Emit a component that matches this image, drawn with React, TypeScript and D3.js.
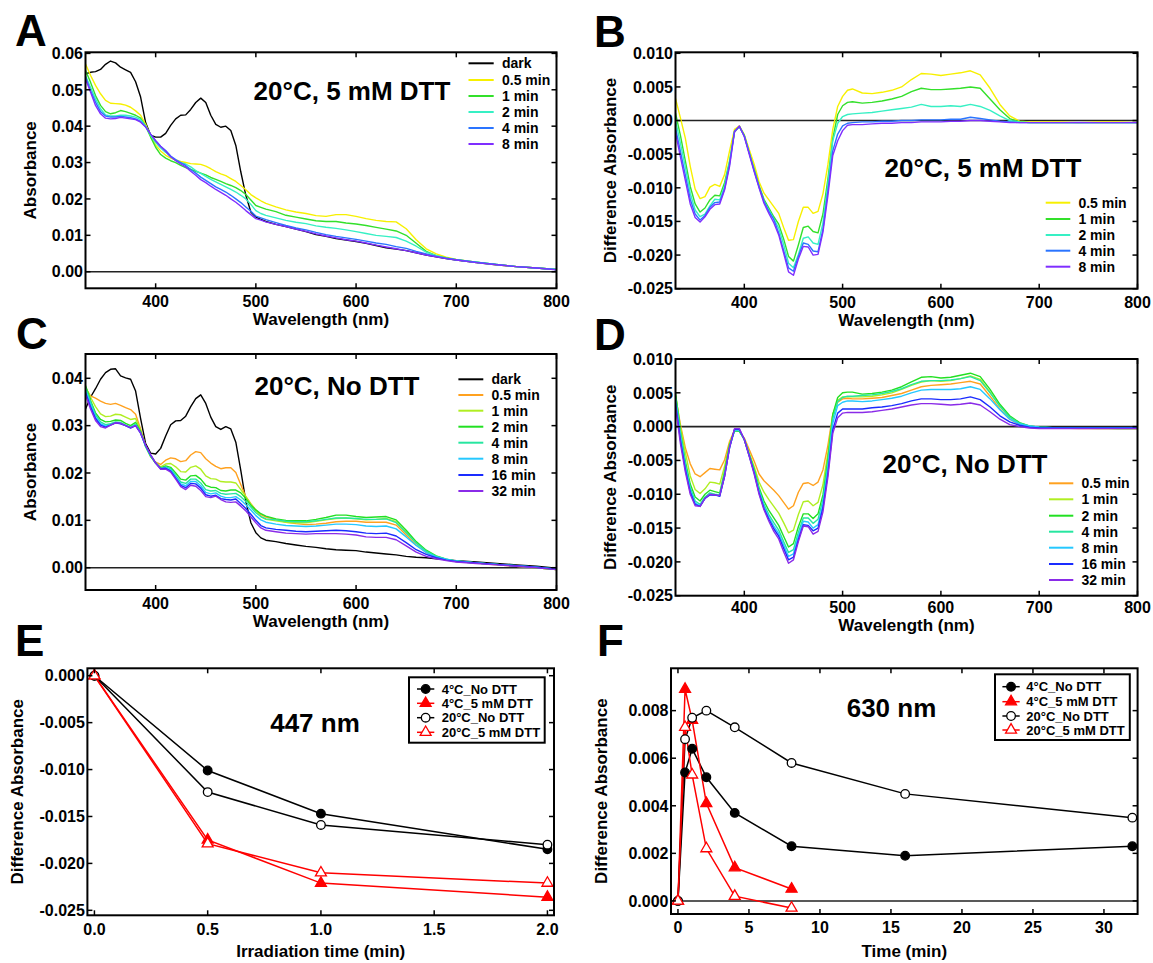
import React from "react";
import * as d3 from "d3";

const wavelengths = [330,335,340,345,350,355,360,365,370,375,380,385,390,395,400,405,410,415,420,425,430,435,440,445,450,455,460,465,470,475,480,485,490,495,500,505,510,520,530,540,550,560,570,580,590,600,610,620,630,640,650,660,670,680,690,700,720,740,760,780,800];

// Panel A: absorbance, 20°C, 5 mM DTT
const aDark = [.0544,.0548,.0550,.0556,.0570,.0579,.0574,.0562,.0555,.0548,.0522,.0480,.0410,.0375,.0370,.0370,.0380,.0402,.0420,.0430,.0431,.0446,.0465,.0477,.0465,.0430,.0405,.0397,.0400,.0388,.0347,.0274,.0210,.0164,.0150,.0144,.0138,.0130,.0124,.0117,.0110,.0102,.0097,.0091,.0087,.0083,.0078,.0072,.0066,.0062,.0058,.0052,.0046,.0041,.0036,.0032,.0025,.0019,.0014,.0010,.0006];
const aMin05 = [.0571,.0540,.0512,.0489,.0471,.0463,.0462,.0461,.0458,.0452,.0442,.0430,.0405,.0372,.0348,.0332,.0320,.0312,.0307,.0303,.0300,.0297,.0296,.0295,.0290,.0283,.0275,.0269,.0264,.0256,.0248,.0237,.0225,.0212,.0203,.0195,.0188,.0178,.0170,.0164,.0160,.0154,.0152,.0157,.0157,.0152,.0146,.0141,.0138,.0137,.0118,.0088,.0063,.0049,.0040,.0034,.0026,.0019,.0014,.0010,.0006];
const aMin1 = [.0553,.0521,.0484,.0457,.0440,.0434,.0437,.0443,.0440,.0435,.0430,.0422,.0400,.0370,.0342,.0322,.0312,.0305,.0300,.0292,.0286,.0281,.0276,.0271,.0266,.0259,.0254,.0248,.0242,.0237,.0231,.0223,.0212,.0197,.0182,.0177,.0172,.0165,.0155,.0150,.0145,.0140,.0138,.0138,.0134,.0131,.0127,.0122,.0117,.0112,.0100,.0078,.0056,.0044,.0038,.0033,.0026,.0020,.0014,.0010,.0006];
const aMin2 = [.0539,.0507,.0475,.0448,.0431,.0428,.0428,.0430,.0430,.0428,.0425,.0418,.0400,.0375,.0355,.0340,.0328,.0315,.0307,.0300,.0296,.0288,.0278,.0270,.0262,.0254,.0247,.0240,.0233,.0226,.0219,.0210,.0200,.0185,.0168,.0160,.0155,.0148,.0141,.0136,.0132,.0126,.0122,.0119,.0115,.0110,.0105,.0100,.0097,.0094,.0084,.0070,.0054,.0044,.0037,.0033,.0026,.0020,.0014,.0010,.0006];
const aMin4 = [.0535,.0498,.0466,.0440,.0428,.0425,.0425,.0427,.0425,.0423,.0420,.0413,.0398,.0378,.0360,.0345,.0333,.0318,.0308,.0300,.0292,.0281,.0271,.0260,.0251,.0242,.0233,.0226,.0219,.0210,.0200,.0190,.0178,.0166,.0153,.0148,.0143,.0135,.0127,.0120,.0115,.0108,.0102,.0097,.0093,.0089,.0084,.0079,.0075,.0069,.0064,.0056,.0049,.0042,.0037,.0033,.0026,.0020,.0014,.0010,.0006];
const aMin8 = [.0530,.0494,.0457,.0434,.0422,.0420,.0421,.0424,.0422,.0420,.0418,.0411,.0398,.0378,.0360,.0344,.0331,.0316,.0305,.0296,.0288,.0276,.0265,.0253,.0245,.0235,.0226,.0218,.0210,.0200,.0191,.0180,.0168,.0157,.0146,.0142,.0137,.0130,.0124,.0117,.0111,.0104,.0098,.0093,.0088,.0084,.0079,.0073,.0068,.0063,.0058,.0052,.0046,.0041,.0036,.0032,.0025,.0019,.0014,.0010,.0005];

// Panel B: difference absorbance, 20°C, 5 mM DTT
const bMin05 = [.0033,.0004,-.0026,-.0068,-.0102,-.0116,-.0113,-.0099,-.0095,-.0098,-.0080,-.0045,-.0013,-.0008,-.0021,-.0043,-.0065,-.0091,-.0108,-.0118,-.0128,-.0138,-.0159,-.0178,-.0177,-.0150,-.0129,-.0129,-.0138,-.0135,-.0109,-.0066,-.0013,.0021,.0036,.0045,.0047,.0041,.0040,.0042,.0045,.0050,.0061,.0070,.0069,.0067,.0069,.0071,.0074,.0068,.0048,.0024,.0007,-.0001,-.0002,-.0002,-.0002,-.0003,-.0002,-.0002,-.0003];
const bMin1 = [.0011,-.0022,-.0060,-.0098,-.0124,-.0136,-.0130,-.0118,-.0111,-.0112,-.0092,-.0060,-.0017,-.0009,-.0022,-.0048,-.0072,-.0097,-.0117,-.0130,-.0143,-.0154,-.0176,-.0202,-.0209,-.0185,-.0159,-.0157,-.0165,-.0167,-.0139,-.0087,-.0027,.0009,.0022,.0027,.0028,.0026,.0027,.0029,.0032,.0036,.0043,.0048,.0046,.0046,.0047,.0048,.0050,.0048,.0032,.0016,.0003,-.0002,-.0003,-.0003,-.0003,-.0003,-.0003,-.0003,-.0003];
const bMin2 = [.0001,-.0034,-.0069,-.0108,-.0133,-.0143,-.0139,-.0127,-.0117,-.0118,-.0097,-.0062,-.0017,-.0009,-.0023,-.0048,-.0074,-.0099,-.0120,-.0133,-.0146,-.0160,-.0184,-.0212,-.0219,-.0199,-.0175,-.0173,-.0182,-.0184,-.0152,-.0095,-.0030,-.0004,.0006,.0009,.0010,.0011,.0012,.0014,.0016,.0018,.0020,.0024,.0021,.0021,.0022,.0021,.0024,.0021,.0015,.0007,.0000,-.0002,-.0003,-.0003,-.0003,-.0003,-.0003,-.0003,-.0003];
const bMin4 = [-.0011,-.0046,-.0081,-.0117,-.0139,-.0148,-.0141,-.0129,-.0122,-.0121,-.0101,-.0065,-.0016,-.0009,-.0023,-.0048,-.0074,-.0098,-.0120,-.0135,-.0147,-.0167,-.0193,-.0219,-.0224,-.0202,-.0182,-.0184,-.0194,-.0195,-.0162,-.0105,-.0045,-.0020,-.0008,-.0004,-.0003,-.0002,-.0002,-.0001,-.0001,.0000,.0000,.0001,.0001,.0001,.0002,.0002,.0005,.0003,.0001,-.0001,-.0002,-.0003,-.0003,-.0003,-.0003,-.0003,-.0003,-.0003,-.0003];
const bMin8 = [-.0018,-.0054,-.0089,-.0124,-.0144,-.0151,-.0143,-.0132,-.0125,-.0124,-.0103,-.0068,-.0017,-.0008,-.0024,-.0050,-.0076,-.0100,-.0123,-.0138,-.0152,-.0170,-.0197,-.0225,-.0230,-.0206,-.0187,-.0188,-.0200,-.0199,-.0166,-.0112,-.0052,-.0030,-.0015,-.0007,-.0006,-.0006,-.0005,-.0004,-.0004,-.0003,-.0003,-.0002,-.0002,-.0002,-.0001,-.0001,.0000,.0000,-.0001,-.0002,-.0003,-.0003,-.0003,-.0003,-.0003,-.0003,-.0003,-.0003,-.0003];

// Panel C: absorbance, 20°C, No DTT
const cDark = [.0335,.0360,.0378,.0398,.0412,.0419,.0420,.0405,.0401,.0398,.0373,.0315,.0262,.0242,.0240,.0252,.0278,.0302,.0310,.0311,.0320,.0340,.0357,.0365,.0347,.0318,.0298,.0292,.0298,.0293,.0265,.0205,.0140,.0095,.0074,.0063,.0058,.0055,.0051,.0048,.0045,.0043,.0040,.0038,.0037,.0036,.0033,.0031,.0029,.0027,.0024,.0022,.0021,.0019,.0017,.0015,.0012,.0009,.0006,.0003,-.0001];
const cMin05 = [.0380,.0363,.0358,.0352,.0347,.0345,.0347,.0343,.0338,.0334,.0324,.0293,.0257,.0235,.0223,.0218,.0227,.0232,.0230,.0224,.0226,.0238,.0245,.0243,.0230,.0221,.0214,.0209,.0211,.0211,.0201,.0175,.0150,.0135,.0122,.0112,.0107,.0102,.0096,.0093,.0091,.0092,.0094,.0097,.0098,.0098,.0096,.0096,.0096,.0090,.0069,.0048,.0032,.0022,.0017,.0013,.0010,.0006,.0003,.0000,-.0004];
const cMin1 = [.0382,.0360,.0340,.0325,.0319,.0320,.0324,.0323,.0318,.0313,.0315,.0290,.0256,.0235,.0221,.0213,.0219,.0220,.0213,.0203,.0202,.0212,.0215,.0208,.0194,.0188,.0187,.0182,.0181,.0181,.0179,.0165,.0150,.0134,.0120,.0108,.0102,.0099,.0096,.0095,.0095,.0098,.0101,.0104,.0105,.0103,.0101,.0102,.0104,.0097,.0075,.0052,.0035,.0023,.0017,.0013,.0010,.0007,.0003,.0000,-.0004];
const cMin2 = [.0385,.0353,.0327,.0313,.0308,.0309,.0312,.0311,.0305,.0300,.0307,.0288,.0256,.0235,.0221,.0211,.0215,.0212,.0200,.0187,.0185,.0194,.0195,.0187,.0174,.0170,.0169,.0163,.0162,.0164,.0164,.0158,.0146,.0132,.0122,.0114,.0109,.0103,.0100,.0099,.0099,.0102,.0106,.0111,.0111,.0108,.0106,.0107,.0108,.0101,.0079,.0055,.0037,.0025,.0018,.0014,.0010,.0007,.0004,.0000,-.0004];
const cMin4 = [.0380,.0351,.0323,.0308,.0302,.0304,.0308,.0307,.0301,.0297,.0303,.0285,.0256,.0236,.0221,.0210,.0213,.0209,.0195,.0181,.0178,.0187,.0187,.0179,.0165,.0162,.0163,.0157,.0155,.0156,.0157,.0150,.0140,.0128,.0116,.0108,.0103,.0101,.0098,.0097,.0097,.0099,.0102,.0105,.0105,.0104,.0102,.0102,.0103,.0095,.0074,.0052,.0035,.0024,.0018,.0014,.0010,.0007,.0004,.0001,-.0003];
const cMin8 = [.0375,.0345,.0318,.0304,.0299,.0302,.0306,.0305,.0300,.0296,.0301,.0284,.0257,.0237,.0221,.0209,.0211,.0206,.0192,.0177,.0173,.0182,.0182,.0173,.0159,.0156,.0158,.0151,.0148,.0148,.0150,.0143,.0133,.0122,.0110,.0101,.0096,.0092,.0089,.0088,.0087,.0088,.0090,.0092,.0092,.0091,.0088,.0087,.0088,.0082,.0065,.0047,.0032,.0023,.0018,.0014,.0010,.0007,.0004,.0001,-.0003];
const cMin16 = [.0370,.0340,.0315,.0301,.0297,.0301,.0306,.0304,.0300,.0295,.0300,.0284,.0258,.0238,.0221,.0209,.0210,.0204,.0189,.0174,.0169,.0178,.0177,.0168,.0154,.0151,.0153,.0146,.0144,.0143,.0145,.0135,.0125,.0113,.0100,.0089,.0084,.0081,.0079,.0077,.0076,.0077,.0078,.0079,.0078,.0076,.0073,.0072,.0073,.0067,.0053,.0038,.0028,.0021,.0016,.0013,.0010,.0007,.0004,.0001,-.0003];
const cMin32 = [.0365,.0335,.0311,.0298,.0295,.0301,.0306,.0305,.0300,.0296,.0300,.0284,.0259,.0239,.0221,.0208,.0208,.0202,.0187,.0171,.0165,.0174,.0172,.0163,.0150,.0148,.0151,.0144,.0139,.0138,.0139,.0130,.0120,.0107,.0095,.0084,.0079,.0076,.0073,.0072,.0071,.0072,.0072,.0072,.0071,.0069,.0065,.0064,.0064,.0059,.0046,.0033,.0024,.0019,.0015,.0012,.0009,.0006,.0003,.0000,-.0004];

// Panel D: difference absorbance, 20°C, No DTT
const dMin05 = [.0045,.0003,-.0031,-.0055,-.0070,-.0074,-.0068,-.0062,-.0063,-.0064,-.0049,-.0022,-.0005,-.0007,-.0017,-.0034,-.0051,-.0070,-.0080,-.0087,-.0094,-.0102,-.0112,-.0122,-.0117,-.0097,-.0084,-.0083,-.0087,-.0082,-.0064,-.0028,.0018,.0036,.0041,.0042,.0041,.0041,.0042,.0043,.0046,.0049,.0054,.0059,.0061,.0062,.0063,.0065,.0067,.0063,.0045,.0026,.0011,.0003,.0000,-.0002,-.0002,-.0003,-.0003,-.0003,-.0003];
const dMin1 = [.0047,.0000,-.0038,-.0073,-.0093,-.0099,-.0092,-.0082,-.0083,-.0085,-.0058,-.0025,-.0006,-.0007,-.0019,-.0039,-.0059,-.0082,-.0097,-.0108,-.0118,-.0128,-.0142,-.0157,-.0153,-.0130,-.0111,-.0110,-.0117,-.0112,-.0086,-.0039,.0018,.0039,.0044,.0044,.0044,.0044,.0045,.0047,.0050,.0055,.0061,.0066,.0068,.0067,.0068,.0071,.0075,.0070,.0051,.0030,.0014,.0004,.0000,-.0002,-.0002,-.0002,-.0003,-.0003,-.0003];
const dMin2 = [.0050,-.0007,-.0051,-.0085,-.0104,-.0110,-.0100,-.0094,-.0096,-.0098,-.0066,-.0027,-.0006,-.0007,-.0019,-.0041,-.0063,-.0090,-.0110,-.0124,-.0135,-.0146,-.0162,-.0178,-.0173,-.0148,-.0129,-.0129,-.0136,-.0129,-.0101,-.0048,.0018,.0043,.0050,.0051,.0051,.0048,.0049,.0051,.0054,.0059,.0066,.0073,.0074,.0072,.0073,.0076,.0079,.0074,.0055,.0033,.0016,.0006,.0001,-.0001,-.0002,-.0002,-.0002,-.0003,-.0003];
const dMin4 = [.0045,-.0009,-.0055,-.0090,-.0110,-.0115,-.0104,-.0098,-.0100,-.0101,-.0070,-.0030,-.0006,-.0006,-.0019,-.0042,-.0065,-.0093,-.0115,-.0130,-.0142,-.0153,-.0170,-.0186,-.0182,-.0156,-.0135,-.0135,-.0143,-.0137,-.0108,-.0055,.0012,.0037,.0043,.0045,.0045,.0046,.0047,.0049,.0052,.0056,.0062,.0067,.0068,.0068,.0069,.0071,.0074,.0068,.0050,.0030,.0014,.0005,.0001,-.0001,-.0002,-.0002,-.0002,-.0002,-.0002];
const dMin8 = [.0040,-.0015,-.0060,-.0094,-.0113,-.0117,-.0106,-.0100,-.0101,-.0102,-.0072,-.0031,-.0005,-.0005,-.0019,-.0043,-.0067,-.0096,-.0118,-.0134,-.0147,-.0158,-.0175,-.0192,-.0188,-.0162,-.0140,-.0141,-.0150,-.0145,-.0115,-.0062,.0005,.0031,.0036,.0038,.0038,.0037,.0038,.0040,.0042,.0045,.0050,.0054,.0055,.0055,.0055,.0056,.0059,.0055,.0041,.0025,.0011,.0004,.0001,-.0001,-.0002,-.0002,-.0002,-.0002,-.0002];
const dMin16 = [.0035,-.0020,-.0063,-.0097,-.0115,-.0118,-.0106,-.0101,-.0101,-.0103,-.0073,-.0031,-.0004,-.0004,-.0019,-.0043,-.0068,-.0098,-.0121,-.0137,-.0151,-.0162,-.0180,-.0197,-.0193,-.0167,-.0145,-.0146,-.0154,-.0150,-.0120,-.0070,-.0005,.0020,.0026,.0026,.0026,.0026,.0028,.0029,.0031,.0034,.0038,.0041,.0041,.0040,.0040,.0041,.0044,.0040,.0029,.0016,.0007,.0002,-.0001,-.0002,-.0002,-.0002,-.0002,-.0002,-.0002];
const dMin32 = [.0030,-.0025,-.0067,-.0100,-.0117,-.0118,-.0106,-.0100,-.0101,-.0102,-.0073,-.0031,-.0003,-.0003,-.0019,-.0044,-.0070,-.0100,-.0123,-.0140,-.0155,-.0166,-.0185,-.0202,-.0197,-.0170,-.0147,-.0148,-.0159,-.0155,-.0126,-.0075,-.0010,.0013,.0020,.0021,.0021,.0021,.0022,.0024,.0026,.0029,.0032,.0034,.0034,.0033,.0032,.0033,.0035,.0032,.0022,.0011,.0003,.0000,-.0002,-.0003,-.0003,-.0003,-.0003,-.0003,-.0003];

// Panel E: 447 nm kinetics
const eTimes = [0, 0.5, 1, 2];
const e4NoDTT = [0, -0.0101, -0.0147, -0.0185];
const e4DTT = [0, -0.0175, -0.0221, -0.0236];
const e20NoDTT = [0, -0.0124, -0.0159, -0.0180];
const e20DTT = [0, -0.0179, -0.0210, -0.0221];

// Panel F: 630 nm kinetics
const fTimesLong = [0, 0.5, 1, 2, 4, 8, 16, 32];
const fTimesShort = [0, 0.5, 1, 2, 4, 8];
const f4NoDTT = [0, 0.0054, 0.0064, 0.0052, 0.0037, 0.0023, 0.0019, 0.0023];
const f4DTT = [0, 0.0089, 0.0076, 0.0041, 0.0014, 0.0005];
const f20NoDTT = [0, 0.0068, 0.0077, 0.0080, 0.0073, 0.0058, 0.0045, 0.0035];
const f20DTT = [0, 0.0073, 0.0053, 0.0022, 0.0002, -0.0003];

// Tick values / labels
const waveTicks = [400, 500, 600, 700, 800];
const aYTicks = [0, 0.01, 0.02, 0.03, 0.04, 0.05, 0.06];
const cYTicks = [0, 0.01, 0.02, 0.03, 0.04];
const diffYTicks = [0.01, 0.005, 0, -0.005, -0.01, -0.015, -0.02, -0.025];
const eXTicks = [0, 0.5, 1, 1.5, 2];
const eYTicks = [0, -0.005, -0.01, -0.015, -0.02, -0.025];
const fXTicks = [0, 5, 10, 15, 20, 25, 30];
const fYTicks = [0, 0.002, 0.004, 0.006, 0.008];

const labelsAB = ["dark", "0.5 min", "1 min", "2 min", "4 min", "8 min"];
const labelsCD = ["dark", "0.5 min", "1 min", "2 min", "4 min", "8 min", "16 min", "32 min"];
const kineticLabels = ["4°C_No DTT", "4°C_5 mM DTT", "20°C_No DTT", "20°C_5 mM DTT"];

const colorsA = ["#000000", "#f7f000", "#33e02a", "#36f0c4", "#2a74ff", "#7f2eff"];
const colorsC = ["#000000", "#ffa11f", "#b0ee22", "#22e022", "#26e6a0", "#25c8ff", "#1a2cff", "#8a2be8"];

const FONT = "'Liberation Sans', Arial, Helvetica, sans-serif";

type Box = { l: number; t: number; r: number; b: number };
type Series = { label: string; color: string; values: number[] };

function Axes(p: {
  box: Box;
  x: d3.ScaleLinear<number, number>;
  y: d3.ScaleLinear<number, number>;
  xTicks: number[];
  yTicks: number[];
  xFmt: (v: number) => string;
  yFmt: (v: number) => string;
  xLabelY: number;
}) {
  const { box, x, y } = p;
  const tl = 5;
  return (
    <g>
      {p.xTicks.map((v, i) => (
        <g key={"xt" + i}>
          <line x1={x(v)} x2={x(v)} y1={box.b} y2={box.b - tl} stroke="#000" strokeWidth={1.5} />
          <line x1={x(v)} x2={x(v)} y1={box.t} y2={box.t + tl} stroke="#000" strokeWidth={1.5} />
          <text x={x(v)} y={p.xLabelY} textAnchor="middle" fontSize={16} fontWeight="bold" fontFamily={FONT}>
            {p.xFmt(v)}
          </text>
        </g>
      ))}
      {p.yTicks.map((v, i) => (
        <g key={"yt" + i}>
          <line x1={box.l} x2={box.l + tl} y1={y(v)} y2={y(v)} stroke="#000" strokeWidth={1.5} />
          <line x1={box.r} x2={box.r - tl} y1={y(v)} y2={y(v)} stroke="#000" strokeWidth={1.5} />
          <text x={box.l - 2.5} y={y(v)} dy="0.36em" textAnchor="end" fontSize={16} fontWeight="bold" fontFamily={FONT}>
            {p.yFmt(v)}
          </text>
        </g>
      ))}
      <rect x={box.l} y={box.t} width={box.r - box.l} height={box.b - box.t} fill="none" stroke="#000" strokeWidth={2} />
    </g>
  );
}

function SpectrumPanel(p: {
  id: string;
  box: Box;
  yDomain: [number, number];
  yTicks: number[];
  yDigits: number;
  series: Series[];
  letter: string;
  letterX: number;
  letterY: number;
  title: string;
  titleX: number;
  titleY: number;
  legendRows: number[];
  legendLineX: [number, number];
  legendTextX: number;
  yTitle: string;
  yTitleX: number;
  xLabelY: number;
  xTitleY: number;
  zeroLine: boolean;
}) {
  const { box } = p;
  const x = d3.scaleLinear().domain([330, 800]).range([box.l, box.r]);
  const y = d3.scaleLinear().domain(p.yDomain).range([box.b, box.t]);
  const line = d3
    .line<number>()
    .defined((v) => Number.isFinite(v))
    .x((_, i) => x(wavelengths[i]))
    .y((v) => y(v));
  const clipId = "clip-" + p.id;
  return (
    <g>
      <defs>
        <clipPath id={clipId}>
          <rect x={box.l} y={box.t} width={box.r - box.l} height={box.b - box.t} />
        </clipPath>
      </defs>
      <g clipPath={`url(#${clipId})`}>
        {p.zeroLine && <line x1={box.l} x2={box.r} y1={y(0)} y2={y(0)} stroke="#222" strokeWidth={1.6} />}
        {p.series.map((s, i) => (
          <path key={i} d={line(s.values) || ""} fill="none" stroke={s.color} strokeWidth={1.4} strokeLinejoin="round" />
        ))}
      </g>
      <Axes
        box={box}
        x={x}
        y={y}
        xTicks={waveTicks}
        yTicks={p.yTicks}
        xFmt={(v) => String(v)}
        yFmt={(v) => (Math.abs(v) < 1e-12 ? (0).toFixed(p.yDigits) : v.toFixed(p.yDigits))}
        xLabelY={p.xLabelY}
      />
      <text x={p.letterX} y={p.letterY} fontSize={44} fontWeight="bold" fontFamily={FONT}>
        {p.letter}
      </text>
      <text x={p.titleX} y={p.titleY} textAnchor="middle" fontSize={26} fontWeight="bold" fontFamily={FONT}>
        {p.title}
      </text>
      {p.series.map((s, i) => (
        <g key={"lg" + i}>
          <line x1={p.legendLineX[0]} x2={p.legendLineX[1]} y1={p.legendRows[i]} y2={p.legendRows[i]} stroke={s.color} strokeWidth={2} />
          <text x={p.legendTextX} y={p.legendRows[i]} dy="0.36em" fontSize={14} fontWeight="bold" fontFamily={FONT}>
            {s.label}
          </text>
        </g>
      ))}
      <text
        transform={`translate(${p.yTitleX},${(box.t + box.b) / 2}) rotate(-90)`}
        textAnchor="middle"
        dy="0.36em"
        fontSize={17}
        fontWeight="bold"
        fontFamily={FONT}
      >
        {p.yTitle}
      </text>
      <text x={(box.l + box.r) / 2} y={p.xTitleY} textAnchor="middle" fontSize={17} fontWeight="bold" fontFamily={FONT}>
        Wavelength (nm)
      </text>
    </g>
  );
}

type KSeries = { label: string; color: string; filled: boolean; shape: "circle" | "triangle"; t: number[]; v: number[] };

function Marker(p: { shape: "circle" | "triangle"; cx: number; cy: number; color: string; filled: boolean }) {
  if (p.shape === "circle") {
    return <circle cx={p.cx} cy={p.cy} r={4.3} fill={p.filled ? p.color : "#fff"} stroke={p.color} strokeWidth={1.3} />;
  }
  const d = d3.symbol().type(d3.symbolTriangle).size(52)() || "";
  return (
    <path
      transform={`translate(${p.cx},${p.cy})`}
      d={d}
      fill={p.filled ? p.color : "#fff"}
      stroke={p.color}
      strokeWidth={1.3}
    />
  );
}

function KineticPanel(p: {
  id: string;
  box: Box;
  xDomain: [number, number];
  yDomain: [number, number];
  xTicks: number[];
  yTicks: number[];
  xFmt: (v: number) => string;
  yFmt: (v: number) => string;
  series: KSeries[];
  letter: string;
  letterX: number;
  letterY: number;
  title: string;
  titleX: number;
  titleY: number;
  legendBox: Box;
  legendRows: number[];
  legendLineX: [number, number];
  legendTextX: number;
  yTitleX: number;
  xTitle: string;
  xLabelY: number;
  xTitleY: number;
  zeroLine: boolean;
}) {
  const { box } = p;
  const x = d3.scaleLinear().domain(p.xDomain).range([box.l, box.r]);
  const y = d3.scaleLinear().domain(p.yDomain).range([box.b, box.t]);
  const lb = p.legendBox;
  const mx = (p.legendLineX[0] + p.legendLineX[1]) / 2;
  return (
    <g>
      {p.zeroLine && <line x1={box.l} x2={box.r} y1={y(0)} y2={y(0)} stroke="#222" strokeWidth={1.5} />}
      {p.series.map((s, i) => {
        const line = d3
          .line<number>()
          .x((_, j) => x(s.t[j]))
          .y((v) => y(v));
        return <path key={"l" + i} d={line(s.v) || ""} fill="none" stroke={s.color} strokeWidth={1.5} />;
      })}
      {p.series.map((s, i) => (
        <g key={"m" + i}>
          {s.v.map((v, j) => (
            <Marker key={j} shape={s.shape} cx={x(s.t[j])} cy={y(v)} color={s.color} filled={s.filled} />
          ))}
        </g>
      ))}
      <Axes box={box} x={x} y={y} xTicks={p.xTicks} yTicks={p.yTicks} xFmt={p.xFmt} yFmt={p.yFmt} xLabelY={p.xLabelY} />
      <text x={p.letterX} y={p.letterY} fontSize={44} fontWeight="bold" fontFamily={FONT}>
        {p.letter}
      </text>
      <text x={p.titleX} y={p.titleY} textAnchor="middle" fontSize={26} fontWeight="bold" fontFamily={FONT}>
        {p.title}
      </text>
      <rect x={lb.l} y={lb.t} width={lb.r - lb.l} height={lb.b - lb.t} fill="#fff" stroke="#000" strokeWidth={2} />
      {p.series.map((s, i) => (
        <g key={"lg" + i}>
          <line x1={p.legendLineX[0]} x2={p.legendLineX[1]} y1={p.legendRows[i]} y2={p.legendRows[i]} stroke={s.color} strokeWidth={1.5} />
          <Marker shape={s.shape} cx={mx} cy={p.legendRows[i]} color={s.color} filled={s.filled} />
          <text x={p.legendTextX} y={p.legendRows[i]} dy="0.36em" fontSize={13} fontWeight="bold" fontFamily={FONT}>
            {s.label}
          </text>
        </g>
      ))}
      <text
        transform={`translate(${p.yTitleX},${(box.t + box.b) / 2}) rotate(-90)`}
        textAnchor="middle"
        dy="0.36em"
        fontSize={17}
        fontWeight="bold"
        fontFamily={FONT}
      >
        Difference Absorbance
      </text>
      <text x={(box.l + box.r) / 2} y={p.xTitleY} textAnchor="middle" fontSize={17} fontWeight="bold" fontFamily={FONT}>
        {p.xTitle}
      </text>
    </g>
  );
}

export default function App() {
  const seriesA: Series[] = [aDark, aMin05, aMin1, aMin2, aMin4, aMin8].map((v, i) => ({
    label: labelsAB[i],
    color: colorsA[i],
    values: v,
  }));
  const seriesB: Series[] = [bMin05, bMin1, bMin2, bMin4, bMin8].map((v, i) => ({
    label: labelsAB[i + 1],
    color: colorsA[i + 1],
    values: v,
  }));
  const seriesC: Series[] = [cDark, cMin05, cMin1, cMin2, cMin4, cMin8, cMin16, cMin32].map((v, i) => ({
    label: labelsCD[i],
    color: colorsC[i],
    values: v,
  }));
  const seriesD: Series[] = [dMin05, dMin1, dMin2, dMin4, dMin8, dMin16, dMin32].map((v, i) => ({
    label: labelsCD[i + 1],
    color: colorsC[i + 1],
    values: v,
  }));
  const red = "#ff0000";
  const seriesE: KSeries[] = [
    { label: kineticLabels[0], color: "#000", filled: true, shape: "circle", t: eTimes, v: e4NoDTT },
    { label: kineticLabels[1], color: red, filled: true, shape: "triangle", t: eTimes, v: e4DTT },
    { label: kineticLabels[2], color: "#000", filled: false, shape: "circle", t: eTimes, v: e20NoDTT },
    { label: kineticLabels[3], color: red, filled: false, shape: "triangle", t: eTimes, v: e20DTT },
  ];
  const seriesF: KSeries[] = [
    { label: kineticLabels[0], color: "#000", filled: true, shape: "circle", t: fTimesLong, v: f4NoDTT },
    { label: kineticLabels[1], color: red, filled: true, shape: "triangle", t: fTimesShort, v: f4DTT },
    { label: kineticLabels[2], color: "#000", filled: false, shape: "circle", t: fTimesLong, v: f20NoDTT },
    { label: kineticLabels[3], color: red, filled: false, shape: "triangle", t: fTimesShort, v: f20DTT },
  ];

  return (
    <svg
      width={1153}
      height={963}
      viewBox="0 0 1153 963"
      style={{ position: "absolute", left: 0, top: 0, background: "#fff" }}
    >
      <rect x={0} y={0} width={1153} height={963} fill="#fff" />
      <SpectrumPanel
        id="A"
        box={{ l: 85.5, t: 52.3, r: 556.5, b: 288.3 }}
        yDomain={[-0.00456, 0.0603]}
        yTicks={aYTicks}
        yDigits={2}
        series={seriesA}
        letter="A"
        letterX={15}
        letterY={46}
        title="20°C, 5 mM DTT"
        titleX={352}
        titleY={100}
        legendRows={[63.3, 80, 96, 112, 128, 144]}
        legendLineX={[468.5, 493.7]}
        legendTextX={502}
        yTitle="Absorbance"
        yTitleX={30}
        xLabelY={307}
        xTitleY={325}
        zeroLine={true}
      />
      <SpectrumPanel
        id="B"
        box={{ l: 675.5, t: 52.3, r: 1137.5, b: 288.7 }}
        yDomain={[-0.025, 0.01015]}
        yTicks={diffYTicks}
        yDigits={3}
        series={seriesB}
        letter="B"
        letterX={594}
        letterY={46.7}
        title="20°C, 5 mM DTT"
        titleX={983}
        titleY={176.7}
        legendRows={[202.7, 219, 235, 250.7, 266.7]}
        legendLineX={[1045.7, 1070.3]}
        legendTextX={1078.4}
        yTitle="Difference Absorbance"
        yTitleX={610}
        xLabelY={307.5}
        xTitleY={325.5}
        zeroLine={true}
      />
      <SpectrumPanel
        id="C"
        box={{ l: 85.5, t: 354, r: 556.5, b: 590 }}
        yDomain={[-0.00471, 0.04513]}
        yTicks={cYTicks}
        yDigits={2}
        series={seriesC}
        letter="C"
        letterX={16}
        letterY={349}
        title="20°C, No DTT"
        titleX={337}
        titleY={395}
        legendRows={[379.3, 395, 410.7, 426.7, 442.7, 458.7, 475, 491]}
        legendLineX={[458.4, 483.3]}
        legendTextX={491.5}
        yTitle="Absorbance"
        yTitleX={30}
        xLabelY={609}
        xTitleY={627}
        zeroLine={true}
      />
      <SpectrumPanel
        id="D"
        box={{ l: 675.5, t: 359, r: 1137.5, b: 595.7 }}
        yDomain={[-0.025, 0.01]}
        yTicks={diffYTicks}
        yDigits={3}
        series={seriesD}
        letter="D"
        letterX={594}
        letterY={350}
        title="20°C, No DTT"
        titleX={965}
        titleY={472.7}
        legendRows={[483.3, 499.3, 515.7, 531.7, 547.7, 564, 580]}
        legendLineX={[1049, 1073.3]}
        legendTextX={1081.4}
        yTitle="Difference Absorbance"
        yTitleX={610}
        xLabelY={613}
        xTitleY={631}
        zeroLine={true}
      />
      <KineticPanel
        id="E"
        box={{ l: 87.4, t: 668.3, r: 554, b: 915.3 }}
        xDomain={[-0.031, 2.029]}
        yDomain={[-0.02553, 0.00079]}
        xTicks={eXTicks}
        yTicks={eYTicks}
        xFmt={(v) => v.toFixed(1)}
        yFmt={(v) => (Math.abs(v) < 1e-12 ? "0.000" : v.toFixed(3))}
        series={seriesE}
        letter="E"
        letterX={15}
        letterY={656}
        title="447 nm"
        titleX={315}
        titleY={732}
        legendBox={{ l: 409, t: 677.3, r: 544.7, b: 742.7 }}
        legendRows={[689, 703.3, 717.7, 732.3]}
        legendLineX={[417, 434.3]}
        legendTextX={441.7}
        yTitleX={17}
        xTitle="Irradiation time (min)"
        xLabelY={935}
        xTitleY={957}
        zeroLine={false}
      />
      <KineticPanel
        id="F"
        box={{ l: 671, t: 668.3, r: 1137.6, b: 914 }}
        xDomain={[-0.49, 32.37]}
        yDomain={[-0.00055, 0.00978]}
        xTicks={fXTicks}
        yTicks={fYTicks}
        xFmt={(v) => String(v)}
        yFmt={(v) => v.toFixed(3)}
        series={seriesF}
        letter="F"
        letterX={597}
        letterY={656}
        title="630 nm"
        titleX={891.5}
        titleY={717}
        legendBox={{ l: 995, t: 674.3, r: 1129.8, b: 740 }}
        legendRows={[686.7, 701.7, 716, 730]}
        legendLineX={[1002.4, 1019.7]}
        legendTextX={1026.3}
        yTitleX={601}
        xTitle="Time (min)"
        xLabelY={933.3}
        xTitleY={957}
        zeroLine={true}
      />
    </svg>
  );
}
